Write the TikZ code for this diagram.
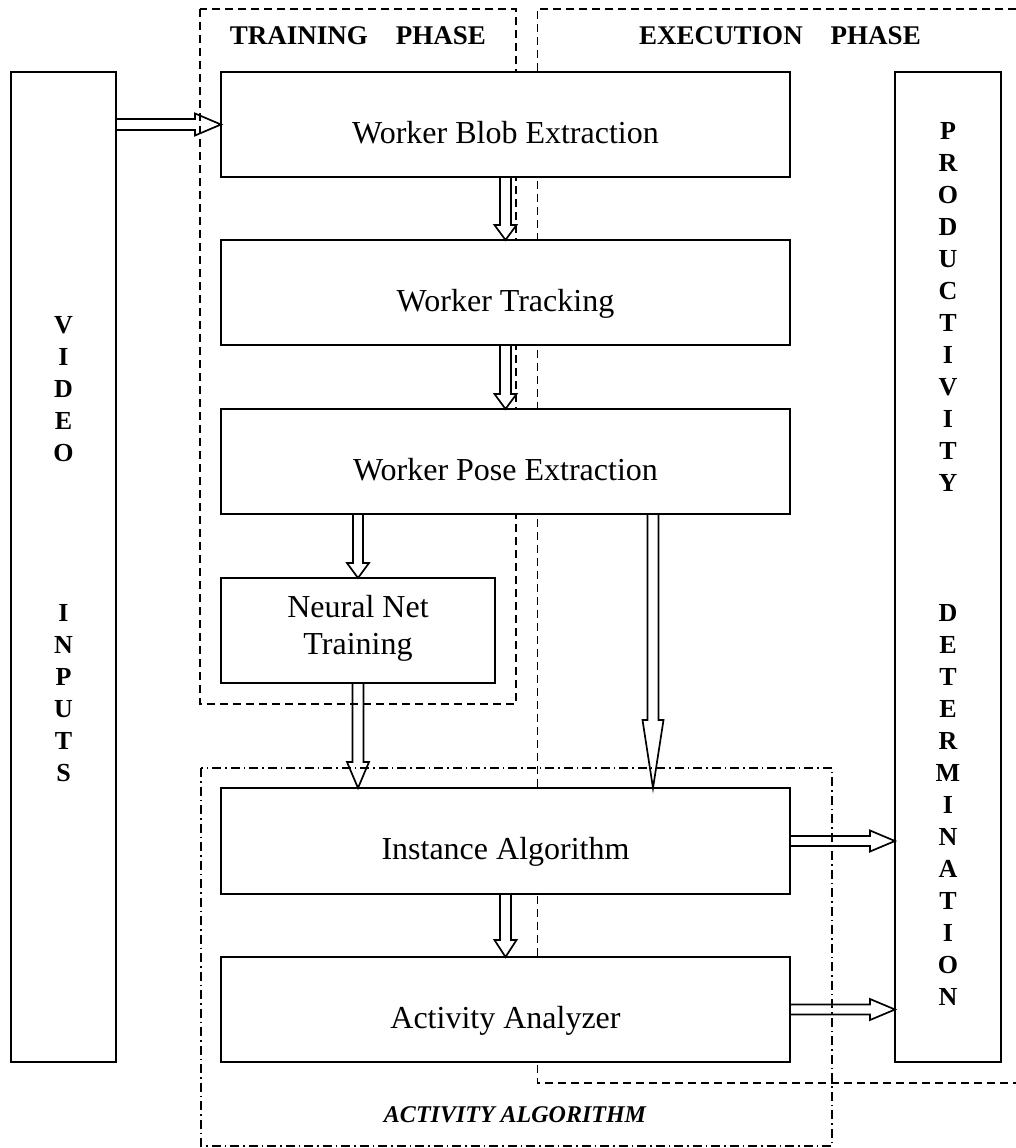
\documentclass[tikz,border=0pt]{standalone}
\usepackage{fontspec}
\setmainfont{Liberation Serif}
\usetikzlibrary{calc}

% Hollow block arrows between two anchors:
% #1 start, #2 end, #3 shaft half-width, #4 head half-width, #5 head length
\newcommand\hollowdown[5]{%
  \draw[hollow] let \p1=(#1), \p2=(#2) in
    (\x1-#3,\y1) -- (\x1-#3,\y2+#5) -- (\x1-#4,\y2+#5) -- (\x1,\y2)
    -- (\x1+#4,\y2+#5) -- (\x1+#3,\y2+#5) -- (\x1+#3,\y1);}
\newcommand\hollowright[5]{%
  \draw[hollow] let \p1=(#1), \p2=(#2) in
    (\x1,\y1+#3) -- (\x2-#5,\y1+#3) -- (\x2-#5,\y1+#4) -- (\x2,\y1)
    -- (\x2-#5,\y1-#4) -- (\x2-#5,\y1-#3) -- (\x1,\y1-#3);}

\begin{document}
\begin{tikzpicture}[x=1pt,y=-1pt,
  procbox/.style={draw, line width=1.8pt, fill=white, inner sep=0pt, outer sep=0pt,
    align=center, font=\fontsize{32}{37}\selectfont, text height=37pt, text depth=0pt},
  sidebox/.style={draw, line width=1.8pt, fill=white, inner sep=0pt, outer sep=0pt},
  sideletters/.style={inner sep=0pt, align=center, anchor=north,
    font=\fontsize{26}{32}\selectfont\bfseries},
  phaselabel/.style={inner sep=0pt, anchor=base, font=\fontsize{27}{32}\selectfont\bfseries},
  phaseframe/.style={line width=1.3pt, dash pattern=on 8pt off 5pt},
  groupframe/.style={line width=1.3pt, dash pattern=on 9pt off 4pt on 1.5pt off 4pt},
  hollow/.style={line width=1.7pt, line join=miter}
]
\useasboundingbox (0,0) rectangle (1016,1148);
\fill[white] (0,0) rectangle (1016,1148);

% phase and group frames
\draw[phaseframe] (200,9) rectangle (516,704);
\draw[phaseframe] (1016,9) -- (537.5,9) -- (537.5,1083) -- (1016,1083);
\draw[groupframe] (201,768) rectangle (832,1146);

% side columns
\node[sidebox, minimum width=105pt, minimum height=990pt] (video) at (63.5,567) {};
\node[sidebox, minimum width=106pt, minimum height=990pt] (prod) at (948,567) {};
\node[sideletters] (videotxt) at (63.5,316.5)
  {V\\I\\D\\E\\O\\[128pt]I\\N\\P\\U\\T\\S};
\node[sideletters] (prodtxt) at (948,122.5)
  {P\\R\\O\\D\\U\\C\\T\\I\\V\\I\\T\\Y\\[98pt]D\\E\\T\\E\\R\\M\\I\\N\\A\\T\\I\\O\\N};

% processing stages
\node[procbox, minimum width=569pt, minimum height=105pt] (blob)   at (505.5,124.5) {Worker Blob Extraction};
\node[procbox, minimum width=569pt, minimum height=105pt] (track)  at (505.5,292.5) {Worker Tracking};
\node[procbox, minimum width=569pt, minimum height=105pt] (pose)   at (505.5,461.5) {Worker Pose Extraction};
\node[procbox, minimum width=274pt, minimum height=105pt, text height=47pt] (neural) at (358,630.5) {Neural Net\\Training};
\node[procbox, minimum width=569pt, minimum height=106pt] (inst)   at (505.5,841) {Instance Algorithm};
\node[procbox, minimum width=569pt, minimum height=105pt] (act)    at (505.5,1009.5) {Activity Analyzer};

% labels
\node[phaselabel] (trainlbl) at (358,45) {TRAINING\hspace{28pt}PHASE};
\node[phaselabel] (execlbl) at (780,45) {EXECUTION\hspace{28pt}PHASE};
\node[inner sep=0pt, anchor=base, font=\fontsize{24}{28}\selectfont\bfseries\itshape]
  (actlbl) at (515,1122) {ACTIVITY ALGORITHM};

% flow
\hollowright{blob.west -| video.east}{blob.west}{5.5pt}{11pt}{26pt}
\hollowdown{blob.south}{track.north}{5.5pt}{11pt}{15pt}
\hollowdown{track.south}{pose.north}{5.5pt}{11pt}{15pt}
\hollowdown{[xshift=-147.5pt]pose.south}{neural.north}{5pt}{11pt}{15pt}
\hollowdown{neural.south}{neural.south |- inst.north}{5.5pt}{11pt}{26pt}
\hollowdown{[xshift=147.5pt]pose.south}{[xshift=147.5pt]inst.north}{5.5pt}{10.5pt}{68pt}
\hollowdown{inst.south}{act.north}{5.5pt}{11pt}{17pt}
\hollowright{inst.east}{inst.east -| prod.west}{5pt}{10.5pt}{25pt}
\hollowright{act.east}{act.east -| prod.west}{5pt}{10.5pt}{25pt}
\end{tikzpicture}
\end{document}
